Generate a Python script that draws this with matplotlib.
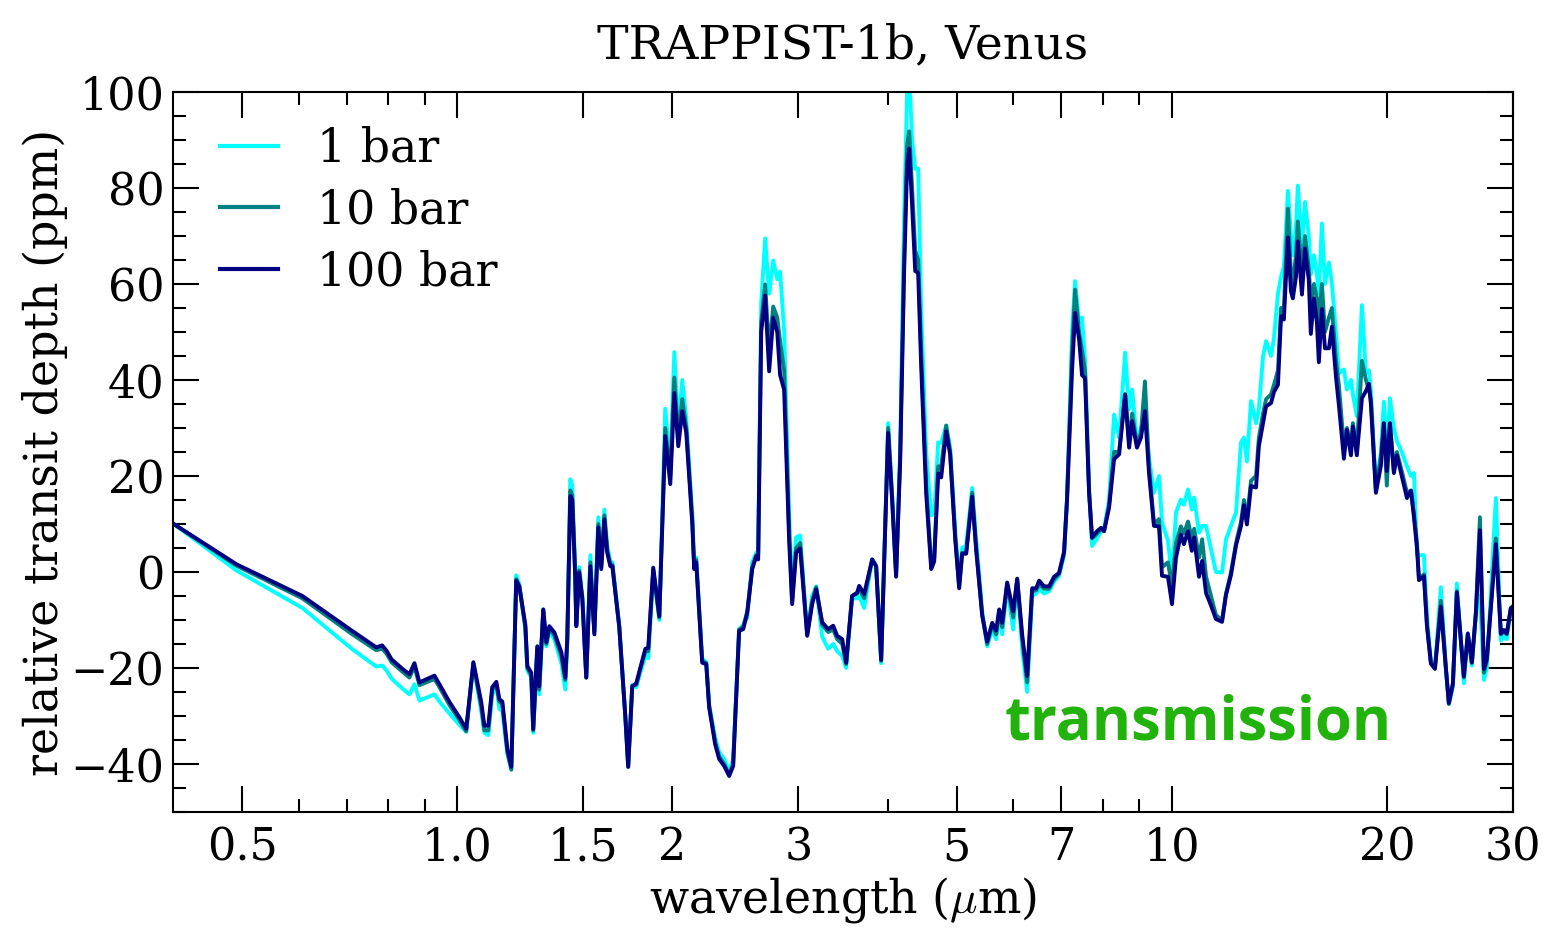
import matplotlib
matplotlib.use("Agg")
import matplotlib.pyplot as plt
from matplotlib.ticker import FixedLocator, FixedFormatter, MultipleLocator

# wavelength grid (micron) and relative transit depth (ppm) for each surface pressure
wavelength = [
    0.400, 0.491, 0.607, 0.713, 0.770, 0.785, 0.796, 0.809, 0.838, 0.857,
    0.871, 0.885, 0.929, 0.944, 0.975, 1.006, 1.029, 1.046, 1.053, 1.080,
    1.091, 1.105, 1.119, 1.134, 1.145, 1.156, 1.175, 1.190, 1.209, 1.221,
    1.245, 1.253, 1.269, 1.277, 1.294, 1.302, 1.319, 1.332, 1.345, 1.367,
    1.398, 1.416, 1.425, 1.439, 1.448, 1.462, 1.467, 1.481, 1.496, 1.515,
    1.535, 1.555, 1.575, 1.590, 1.606, 1.621, 1.637, 1.648, 1.685, 1.718,
    1.734, 1.757, 1.780, 1.803, 1.833, 1.850, 1.880, 1.917, 1.954, 1.986,
    2.012, 2.038, 2.064, 2.091, 2.132, 2.145, 2.159, 2.201, 2.230, 2.251,
    2.295, 2.325, 2.362, 2.401, 2.432, 2.479, 2.512, 2.545, 2.586, 2.620,
    2.636, 2.662, 2.696, 2.731, 2.767, 2.803, 2.829, 2.866, 2.913, 2.941,
    2.979, 3.018, 3.087, 3.137, 3.178, 3.240, 3.303, 3.357, 3.400, 3.456,
    3.500, 3.568, 3.626, 3.650, 3.709, 3.806, 3.855, 3.918, 4.007, 4.059,
    4.111, 4.165, 4.219, 4.260, 4.288, 4.329, 4.372, 4.414, 4.457, 4.529,
    4.603, 4.648, 4.708, 4.754, 4.831, 4.893, 4.973, 5.037, 5.086, 5.152,
    5.253, 5.321, 5.425, 5.513, 5.603, 5.675, 5.731, 5.786, 5.880, 5.995,
    6.073, 6.171, 6.271, 6.373, 6.456, 6.518, 6.622, 6.730, 6.839, 6.950,
    7.063, 7.131, 7.247, 7.318, 7.413, 7.484, 7.557, 7.655, 7.729, 7.855,
    7.957, 8.034, 8.165, 8.298, 8.433, 8.598, 8.710, 8.795, 8.933, 9.049,
    9.166, 9.285, 9.436, 9.590, 9.683, 9.872, 10.00, 10.13, 10.29, 10.39,
    10.53, 10.66, 10.74, 10.91, 11.02, 11.16, 11.34, 11.52, 11.75, 11.90,
    12.09, 12.29, 12.49, 12.61, 12.73, 12.90, 13.11, 13.23, 13.41, 13.54,
    13.76, 13.89, 14.07, 14.21, 14.34, 14.53, 14.67, 14.76, 14.91, 15.00,
    15.20, 15.35, 15.54, 15.64, 15.80, 15.95, 16.05, 16.21, 16.37, 16.58,
    16.74, 16.96, 17.12, 17.40, 17.57, 17.80, 17.91, 18.14, 18.44, 18.68,
    18.86, 18.98, 19.29, 19.60, 19.79, 19.98, 20.18, 20.44, 20.64, 20.97,
    21.32, 21.60, 21.81, 22.02, 22.16, 22.52, 22.74, 23.03, 23.33, 23.78,
    24.17, 24.40, 24.72, 25.04, 25.61, 25.94, 26.28, 26.62, 26.97, 27.32,
    27.58, 28.39, 28.85, 29.13, 29.41, 29.79, 30.08,
]

depth_1bar = [
    10.1, 0.3, -7.5, -16.1, -19.7, -19.5, -20.5, -22.2, -24.3, -25.5,
    -23.4, -26.8, -25.5, -27.0, -29.5, -31.8, -33.3, -23.2, -19.0, -29.0,
    -33.5, -34.0, -25.5, -24.0, -28.5, -29.0, -38.0, -41.0, -0.7, -2.5,
    -12.0, -20.5, -22.0, -33.5, -15.5, -25.5, -7.8, -15.5, -12.5, -14.0,
    -19.0, -24.5, -15.0, 19.3, 18.0, 0.5, -10.5, 1.0, -5.0, -22.0,
    3.5, -12.5, 11.4, 1.8, 13.0, 5.5, 2.2, 2.0, -11.0, -30.0,
    -40.3, -23.5, -24.0, -21.0, -17.5, -18.0, 0.0, -10.0, 34.0, 22.0,
    45.8, 30.0, 40.0, 32.0, 12.0, 1.5, 3.0, -18.0, -18.8, -27.5,
    -34.5, -37.5, -39.0, -41.5, -39.0, -12.0, -11.0, -9.5, 2.0, 4.0,
    3.8, 56.0, 69.5, 58.0, 64.9, 61.0, 62.6, 50.3, 12.0, -4.0,
    7.2, 7.6, -13.0, -5.0, -3.0, -13.5, -16.0, -15.0, -16.5, -17.5,
    -20.0, -5.5, -5.5, -5.0, -7.5, 2.6, 1.2, -19.0, 31.0, 16.0,
    0.0, 25.0, 75.0, 100.0, 104.0, 90.0, 84.0, 84.0, 55.0, 25.0,
    11.8, 12.0, 27.0, 26.9, 30.5, 26.0, 9.0, -2.0, 5.0, 5.5,
    17.5, 7.0, -8.0, -15.5, -12.0, -14.0, -9.0, -13.0, -3.0, -12.0,
    -2.0, -16.0, -25.0, -5.0, -4.5, -3.5, -4.5, -4.0, -2.0, -0.8,
    3.5, 15.0, 50.0, 60.6, 52.0, 53.0, 44.0, 18.0, 5.4, 7.0,
    8.5, 9.0, 15.0, 32.8, 28.0, 45.7, 33.9, 38.0, 27.0, 30.0,
    31.8, 24.0, 16.5, 20.0, 10.3, 6.5, -1.5, 12.4, 15.1, 14.0,
    17.2, 13.0, 15.5, 8.2, 9.6, 9.6, 4.7, 0.0, -0.1, 6.8,
    9.6, 12.4, 27.0, 28.0, 23.0, 35.6, 31.0, 34.0, 45.0, 48.1,
    45.0, 48.8, 58.0, 61.5, 63.7, 79.4, 70.4, 66.0, 72.0, 80.5,
    68.0, 77.1, 70.0, 62.0, 66.0, 62.0, 58.0, 72.6, 60.0, 64.5,
    60.0, 50.0, 41.4, 42.2, 38.0, 40.0, 37.0, 32.5, 55.6, 41.4,
    42.0, 38.0, 16.9, 25.0, 35.5, 25.0, 36.2, 30.0, 27.3, 25.0,
    22.0, 20.0, 20.6, 3.5, 3.5, 3.5, -9.0, -18.8, -20.0, -3.2,
    -20.0, -27.5, -24.0, -2.4, -23.2, -13.0, -19.5, -8.5, -5.0, -22.5,
    -20.0, 15.4, -14.3, -13.5, -14.0, -8.0, -7.5,
]

depth_10bar = [
    10.1, 1.3, -5.5, -13.0, -16.3, -16.0, -17.0, -18.8, -20.8, -22.0,
    -19.7, -23.6, -22.3, -24.0, -27.7, -30.8, -33.2, -23.2, -19.2, -28.0,
    -33.0, -33.0, -24.5, -23.5, -27.0, -27.5, -37.5, -41.2, -1.5, -3.0,
    -11.5, -20.0, -21.5, -33.0, -15.8, -24.5, -8.0, -15.0, -11.8, -13.2,
    -17.5, -22.5, -14.5, 17.0, 16.0, -0.5, -11.0, 0.3, -5.5, -22.0,
    2.0, -12.5, 10.0, 1.2, 11.8, 4.5, 1.6, 1.5, -11.5, -30.0,
    -40.6, -23.8, -23.5, -20.2, -16.5, -16.5, 0.5, -9.5, 30.0, 20.0,
    40.5, 28.0, 36.0, 30.0, 11.0, 1.0, 2.5, -18.5, -19.0, -28.0,
    -35.5, -38.5, -40.0, -42.2, -40.0, -12.0, -11.5, -8.2, 1.0, 3.5,
    3.5, 52.0, 59.9, 46.0, 55.3, 53.0, 48.0, 42.0, 8.0, -6.0,
    5.0, 6.0, -13.0, -6.0, -3.2, -11.0, -12.5, -12.0, -14.0, -15.0,
    -19.2, -5.0, -4.5, -3.5, -5.5, 2.6, 1.2, -18.5, 30.0, 15.5,
    -0.5, 24.0, 66.0, 89.0, 91.8, 80.0, 67.0, 65.0, 46.0, 18.0,
    1.5, 3.0, 22.0, 22.0, 30.5, 25.0, 7.5, -3.0, 4.0, 4.0,
    16.5, 5.0, -9.0, -15.0, -11.0, -13.0, -8.0, -11.5, -2.5, -9.5,
    -1.5, -14.0, -23.0, -4.0, -3.8, -2.5, -3.5, -3.5, -1.5, -0.4,
    4.0, 15.5, 46.0, 58.8, 50.0, 46.0, 42.0, 17.0, 7.0, 8.0,
    9.0, 8.5, 14.0, 25.0, 25.0, 37.0, 27.0, 33.0, 26.5, 29.0,
    39.7, 22.0, 10.0, 11.0, 1.0, 2.0, -3.0, 6.0, 9.5, 8.0,
    10.5, 7.0, 9.0, 3.0, 6.8, -1.0, -5.0, -9.0, -10.0, -4.5,
    -0.2, 6.0, 10.5, 15.0, 11.0, 19.0, 20.0, 28.0, 33.0, 36.0,
    37.0, 39.0, 42.0, 55.0, 55.0, 75.7, 62.0, 60.0, 66.0, 73.0,
    62.0, 70.0, 63.0, 56.0, 60.0, 57.0, 52.0, 60.0, 50.0, 53.0,
    55.0, 44.0, 39.0, 26.0, 30.0, 26.0, 31.0, 25.5, 44.0, 40.0,
    38.0, 36.0, 17.0, 24.0, 31.0, 18.0, 31.0, 21.0, 25.0, 21.0,
    16.5, 17.0, 12.0, 6.0, -1.5, -0.5, -11.0, -19.0, -20.0, -6.0,
    -20.0, -27.5, -23.5, -4.0, -22.0, -13.0, -19.0, -8.5, 11.4, -21.0,
    -18.5, 7.0, -13.0, -12.5, -13.0, -7.5, -7.0,
]

depth_100bar = [
    10.1, 1.6, -5.0, -12.3, -15.7, -15.3, -16.4, -18.2, -20.2, -21.3,
    -19.0, -23.0, -21.6, -23.4, -27.1, -30.2, -32.7, -22.7, -18.8, -27.1,
    -32.0, -32.0, -24.0, -22.9, -26.5, -27.0, -36.9, -40.6, -1.8, -3.0,
    -11.0, -19.6, -21.0, -32.7, -15.5, -23.8, -7.8, -14.6, -11.3, -12.6,
    -16.7, -22.0, -14.0, 15.8, 15.0, -0.9, -11.3, -0.1, -5.7, -22.0,
    1.2, -13.0, 9.3, 0.6, 11.0, 4.0, 1.2, 1.2, -11.5, -30.0,
    -40.6, -23.8, -23.2, -20.0, -16.0, -15.8, 0.9, -9.2, 28.3, 18.3,
    37.3, 26.2, 33.5, 29.0, 10.0, 0.6, 2.0, -18.9, -19.2, -28.2,
    -35.9, -39.0, -40.4, -42.5, -40.4, -12.3, -11.9, -8.5, 0.6, 3.3,
    2.6, 50.0, 57.6, 41.8, 53.0, 50.0, 41.0, 38.0, 6.4, -6.7,
    4.1, 4.9, -13.3, -6.7, -3.6, -10.5, -11.9, -11.2, -13.3, -14.0,
    -18.9, -5.0, -4.3, -2.9, -4.6, 2.6, 1.2, -18.3, 29.0, 14.9,
    -1.0, 22.9, 62.8, 85.0, 88.2, 76.3, 62.7, 62.3, 42.8, 16.5,
    0.6, 2.2, 20.5, 19.7, 29.3, 24.5, 7.0, -3.4, 3.8, 3.8,
    15.7, 4.6, -9.0, -14.5, -10.6, -12.2, -7.8, -10.6, -2.2, -8.2,
    -1.4, -13.0, -21.7, -3.4, -3.4, -1.8, -3.0, -3.0, -1.0, -0.2,
    4.2, 15.0, 42.0, 54.0, 48.5, 41.0, 40.4, 16.5, 7.2, 8.5,
    9.2, 8.5, 13.4, 23.5, 24.5, 37.0, 25.9, 31.4, 25.9, 28.0,
    33.5, 20.7, 9.6, 9.5, -0.8, -1.0, -6.7, 3.0, 7.8, 5.8,
    8.5, 4.4, 7.2, -1.0, 2.3, -4.4, -7.0, -9.8, -10.4, -4.8,
    -0.7, 5.5, 9.6, 13.9, 9.9, 17.9, 17.6, 26.2, 31.1, 34.5,
    35.2, 37.5, 39.0, 53.3, 52.6, 69.7, 58.5, 57.0, 61.5, 68.9,
    57.8, 67.4, 60.8, 49.6, 57.0, 52.0, 43.7, 54.8, 46.6, 46.6,
    51.1, 40.7, 34.8, 23.6, 29.6, 24.3, 30.3, 24.3, 36.2, 37.7,
    39.2, 35.0, 16.5, 22.1, 31.0, 21.0, 31.0, 20.6, 24.3, 19.9,
    15.4, 16.9, 11.3, 5.0, -1.7, -0.9, -11.3, -19.1, -20.2, -7.2,
    -20.2, -27.3, -23.2, -4.3, -21.7, -12.8, -18.8, -8.7, 8.7, -20.2,
    -18.0, 5.8, -12.8, -12.1, -12.8, -7.6, -7.0,
]

series_labels = ["1 bar", "10 bar", "100 bar"]
series_colors = ["cyan", "teal", "navy"]

x_major = [0.5, 1.0, 1.5, 2, 3, 5, 7, 10, 20, 30]
x_major_labels = ["0.5", "1.0", "1.5", "2", "3", "5", "7", "10", "20", "30"]
x_minor = [0.6, 0.7, 0.8, 0.9, 4, 6, 8, 9]

plt.rcParams["font.family"] = ["DejaVu Serif"]
plt.rcParams["mathtext.fontset"] = "cm"

fig = plt.figure(figsize=(15.58, 9.32), dpi=100)
ax = fig.add_axes([0.1110, 0.1288, 0.8601, 0.7725])

for depth, label, color in zip([depth_1bar, depth_10bar, depth_100bar],
                               series_labels, series_colors):
    ax.plot(wavelength, depth, color=color, lw=2.8, label=label)

ax.set_xscale("log")
ax.set_xlim(0.4, 30)
ax.set_ylim(-50, 100)

ax.xaxis.set_major_locator(FixedLocator(x_major))
ax.xaxis.set_major_formatter(FixedFormatter(x_major_labels))
ax.xaxis.set_minor_locator(FixedLocator(x_minor))
ax.xaxis.set_minor_formatter(FixedFormatter([""] * len(x_minor)))
ax.yaxis.set_major_locator(MultipleLocator(20))
ax.yaxis.set_minor_locator(MultipleLocator(5))

ax.tick_params(which="both", direction="in", top=True, right=True,
               width=1.5, labelsize=32)
ax.tick_params(which="major", length=18.5)
ax.tick_params(which="minor", length=9.5)
ax.tick_params(axis="x", which="major", pad=10)
ax.tick_params(axis="y", which="major", pad=6)
for sp in ax.spines.values():
    sp.set_linewidth(1.5)

ax.set_xlabel(r"wavelength ($\mu$m)", fontsize=33, labelpad=4)
ax.set_ylabel("relative transit depth (ppm)", fontsize=33, labelpad=2)
ax.set_title("TRAPPIST-1b, Venus", fontsize=34, pad=24)

leg = ax.legend(loc="upper left", bbox_to_anchor=(0.0097, 1.0),
                frameon=False, fontsize=33,
                handlelength=1.25, handletextpad=0.86, labelspacing=0.36,
                borderaxespad=0.25, borderpad=0.5)
for line in leg.get_lines():
    line.set_linewidth(3)

ax.text(0.621, 0.10, "transmission", transform=ax.transAxes,
        fontsize=43, fontweight="bold", family=["Open Sans", "DejaVu Sans"],
        color="#22b20c", ha="left", va="baseline")

fig.savefig("out.png", dpi=100)
